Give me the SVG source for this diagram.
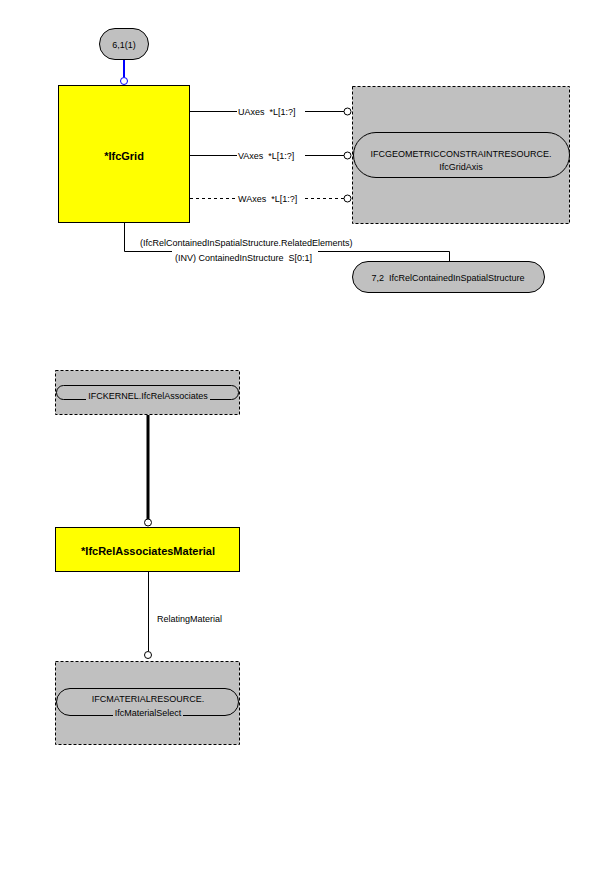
<svg xmlns="http://www.w3.org/2000/svg" width="600" height="888" viewBox="0 0 600 888">
<style>
text{font-family:"Liberation Sans",Arial,sans-serif;font-size:9px;fill:#000;white-space:pre}
.b{font-weight:bold;font-size:11px}
.ent{fill:#ffff00;stroke:#000;stroke-width:1}
.grp{fill:#c0c0c0;stroke:#000;stroke-width:1;stroke-dasharray:3,2}
.pill{fill:#c0c0c0;stroke:#000;stroke-width:1}
.ln{fill:none;stroke:#000;stroke-width:1}
.dash{fill:none;stroke:#000;stroke-width:1;stroke-dasharray:3,3}
.circ{fill:#fff;stroke:#000;stroke-width:1}
</style>
<rect width="600" height="888" fill="#fff"/>
<g id="connectors">
<line x1="124" y1="59" x2="124" y2="77" stroke="#0000ff" stroke-width="2"/>
<circle cx="124" cy="81" r="3.5" fill="#fff" stroke="#0000ff" stroke-width="1"/>
<polyline class="ln" points="190,111.5 237,111.5"/>
<polyline class="ln" points="305,111.5 344,111.5"/>
<circle class="circ" cx="347.5" cy="111.5" r="3.5"/>
<polyline class="ln" points="190,155.5 237,155.5"/>
<polyline class="ln" points="305,155.5 344,155.5"/>
<circle class="circ" cx="347.5" cy="155.5" r="3.5"/>
<polyline class="dash" points="190,198.5 237,198.5"/>
<polyline class="dash" points="305,198.5 344,198.5"/>
<circle class="circ" cx="347.5" cy="198.5" r="3.5"/>
<polyline class="ln" points="124.5,223 124.5,251.5 172,251.5"/>
<polyline class="ln" points="318,251.5 449.5,251.5 449.5,261"/>
<text x="140" y="246">(IfcRelContainedInSpatialStructure.RelatedElements)</text>
<text x="175" y="261" xml:space="preserve">(INV) ContainedInStructure  S[0:1]</text>
<text x="238" y="115" xml:space="preserve">UAxes  *L[1:?]</text>
<text x="238" y="159" xml:space="preserve">VAxes  *L[1:?]</text>
<text x="238" y="202" xml:space="preserve">WAxes  *L[1:?]</text>
<line x1="148" y1="415" x2="148" y2="519" stroke="#000" stroke-width="3"/>
<circle class="circ" cx="148" cy="522.5" r="3.5"/>
<line class="ln" x1="148.5" y1="572" x2="148.5" y2="651"/>
<circle class="circ" cx="148" cy="655" r="3.5"/>
<text x="157" y="622">RelatingMaterial</text>
</g>
<g id="n61">
<rect class="pill" x="99.5" y="28.5" width="49" height="31" rx="15.5"/>
<text x="124" y="48" text-anchor="middle">6,1(1)</text>
</g>
<g id="IfcGrid">
<rect class="ent" x="58.5" y="85.5" width="131" height="137"/>
<text class="b" x="124" y="160" text-anchor="middle">*IfcGrid</text>
</g>
<g id="IfcGridAxis">
<rect class="grp" x="352.5" y="86.5" width="217" height="137"/>
<rect class="pill" x="353.5" y="132.5" width="216" height="45" rx="22.5"/>
<text x="461" y="157" text-anchor="middle">IFCGEOMETRICCONSTRAINTRESOURCE.</text>
<text x="461" y="170" text-anchor="middle">IfcGridAxis</text>
</g>
<g id="n72">
<rect class="pill" x="352.5" y="261.5" width="192" height="31" rx="15.5"/>
<text x="448" y="281" text-anchor="middle" xml:space="preserve">7,2  IfcRelContainedInSpatialStructure</text>
</g>
<g id="IfcRelAssociates">
<rect class="grp" x="55.5" y="370.5" width="184" height="44"/>
<rect class="pill" x="56.5" y="385.5" width="182" height="14" rx="7"/>
<rect x="86" y="388" width="124" height="13" fill="#c0c0c0"/>
<text x="148" y="399" text-anchor="middle">IFCKERNEL.IfcRelAssociates</text>
</g>
<g id="IfcRelAssociatesMaterial">
<rect class="ent" x="55.5" y="527.5" width="184" height="44"/>
<text class="b" x="148" y="555" text-anchor="middle">*IfcRelAssociatesMaterial</text>
</g>
<g id="IfcMaterialSelect">
<rect class="grp" x="55.5" y="661.5" width="184" height="83"/>
<rect class="pill" x="56.5" y="688.5" width="182" height="27" rx="13.5"/>
<rect x="113" y="706" width="70" height="12" fill="#c0c0c0"/>
<text x="148" y="702" text-anchor="middle">IFCMATERIALRESOURCE.</text>
<text x="148" y="716" text-anchor="middle">IfcMaterialSelect</text>
</g>
</svg>
